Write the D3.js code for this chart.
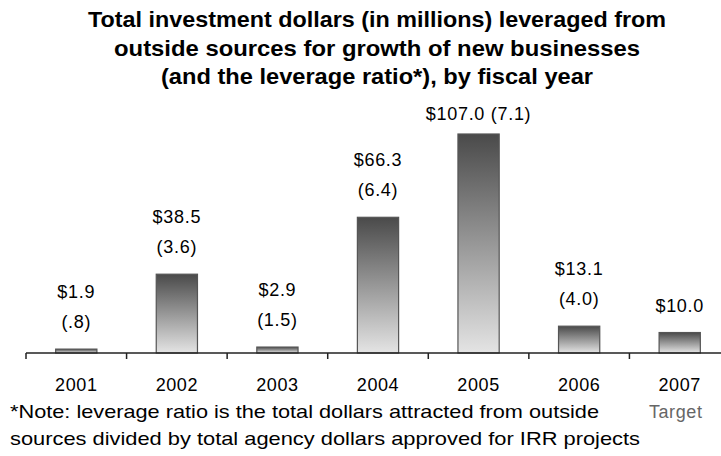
<!DOCTYPE html>
<html>
<head>
<meta charset="utf-8">
<script src="https://cdn.jsdelivr.net/npm/d3@7"></script>
<style>
  body { margin: 0; background: #fff; }
  text { font-family: "Liberation Sans", Arial, sans-serif; }
</style>
</head>
<body>
<div id="chart"></div>
<script>
// fiscal years and investment dollars (millions)
const years = ['2001', '2002', '2003', '2004', '2005', '2006', '2007'];
const dollars = [1.9, 38.5, 2.9, 66.3, 107.0, 13.1, 10.0];
const valueLabels = ['$1.9', '$38.5', '$2.9', '$66.3', '$107.0', '$13.1', '$10.0'];
const ratioLabels = ['(.8)', '(3.6)', '(1.5)', '(6.4)', '(7.1)', '(4.0)', ''];
const titleLines = [
  'Total investment dollars (in millions) leveraged from',
  'outside sources for growth of new businesses',
  '(and the leverage ratio*), by fiscal year'
];
const noteLines = [
  '*Note: leverage ratio is the total dollars attracted from outside',
  'sources divided by total agency dollars approved for IRR projects'
];

const width = 721, height = 456;
const svg = d3.select('#chart').append('svg')
  .attr('width', width)
  .attr('height', height);

// bar gradient: dark top, light bottom
const grad = svg.append('defs').append('linearGradient')
  .attr('id', 'barGrad')
  .attr('x1', 0).attr('y1', 0).attr('x2', 0).attr('y2', 1);
grad.append('stop').attr('offset', '0%').attr('stop-color', '#4a4a4a');
grad.append('stop').attr('offset', '100%').attr('stop-color', '#e4e4e4');

const baseY = 353;
const x = d3.scaleBand().domain(years).range([26, 730]).paddingInner(0.59).paddingOuter(0.295);
const y = d3.scaleLinear().domain([0, 107]).range([baseY, 134]);

// title (condensed look: squeeze glyphs to the measured widths)
const titleWidths = [578, 526, 432];
svg.append('g').selectAll('text')
  .data(titleLines)
  .join('text')
  .attr('x', 377)
  .attr('y', (d, i) => 27 + i * 28.5)
  .attr('text-anchor', 'middle')
  .attr('textLength', (d, i) => titleWidths[i])
  .attr('lengthAdjust', 'spacingAndGlyphs')
  .style('font-weight', 'bold')
  .style('font-size', '22px')
  .attr('fill', '#000')
  .text(d => d);

// bars
svg.append('g').selectAll('rect')
  .data(dollars)
  .join('rect')
  .attr('x', (d, i) => x(years[i]))
  .attr('y', d => y(d))
  .attr('width', x.bandwidth())
  .attr('height', d => baseY - y(d))
  .attr('fill', 'url(#barGrad)')
  .attr('stroke', '#555')
  .attr('stroke-width', 1.2);

// axis
const gap = x.step() - x.bandwidth();
const tickXs = years.map(yr => x(yr) - gap / 2);
const axisG = svg.append('g');
axisG.append('line')
  .attr('x1', 26).attr('x2', width)
  .attr('y1', baseY).attr('y2', baseY)
  .attr('stroke', '#222').attr('stroke-width', 1.5);
axisG.selectAll('line.tick')
  .data(tickXs)
  .join('line')
  .attr('class', 'tick')
  .attr('x1', d => d).attr('x2', d => d)
  .attr('y1', baseY).attr('y2', baseY + 6)
  .attr('stroke', '#222').attr('stroke-width', 1.5);

axisG.selectAll('text')
  .data(years)
  .join('text')
  .attr('x', d => x(d) + x.bandwidth() / 2)
  .attr('y', 391)
  .attr('text-anchor', 'middle')
  .style('font-size', '18px')
  .style('letter-spacing', '0.6px')
  .attr('fill', '#000')
  .text(d => d);

svg.append('text')
  .attr('x', x('2007') + x.bandwidth() / 2 - 4)
  .attr('y', 418)
  .attr('text-anchor', 'middle')
  .style('font-size', '18px')
  .style('letter-spacing', '0.6px')
  .attr('fill', '#666')
  .text('Target');

// value labels above bars
const labels = svg.append('g')
  .style('font-size', '18px')
  .style('letter-spacing', '0.7px');
dollars.forEach((d, i) => {
  const cx = x(years[i]) + x.bandwidth() / 2;
  const top = y(d);
  if (years[i] === '2005') {
    labels.append('text')
      .attr('x', cx).attr('y', top - 14)
      .attr('text-anchor', 'middle')
      .text(valueLabels[i] + ' ' + ratioLabels[i]);
  } else if (ratioLabels[i] === '') {
    labels.append('text')
      .attr('x', cx).attr('y', top - 21)
      .attr('text-anchor', 'middle')
      .text(valueLabels[i]);
  } else {
    labels.append('text')
      .attr('x', cx).attr('y', top - 21)
      .attr('text-anchor', 'middle')
      .text(ratioLabels[i]);
    labels.append('text')
      .attr('x', cx).attr('y', top - 51)
      .attr('text-anchor', 'middle')
      .text(valueLabels[i]);
  }
});

// footnote
const noteWidths = [589, 630];
svg.append('g').selectAll('text')
  .data(noteLines)
  .join('text')
  .attr('x', 10)
  .attr('y', (d, i) => 418 + i * 27)
  .attr('textLength', (d, i) => noteWidths[i])
  .attr('lengthAdjust', 'spacingAndGlyphs')
  .style('font-size', '18.5px')
  .attr('fill', '#000')
  .text(d => d);
</script>
</body>
</html>
